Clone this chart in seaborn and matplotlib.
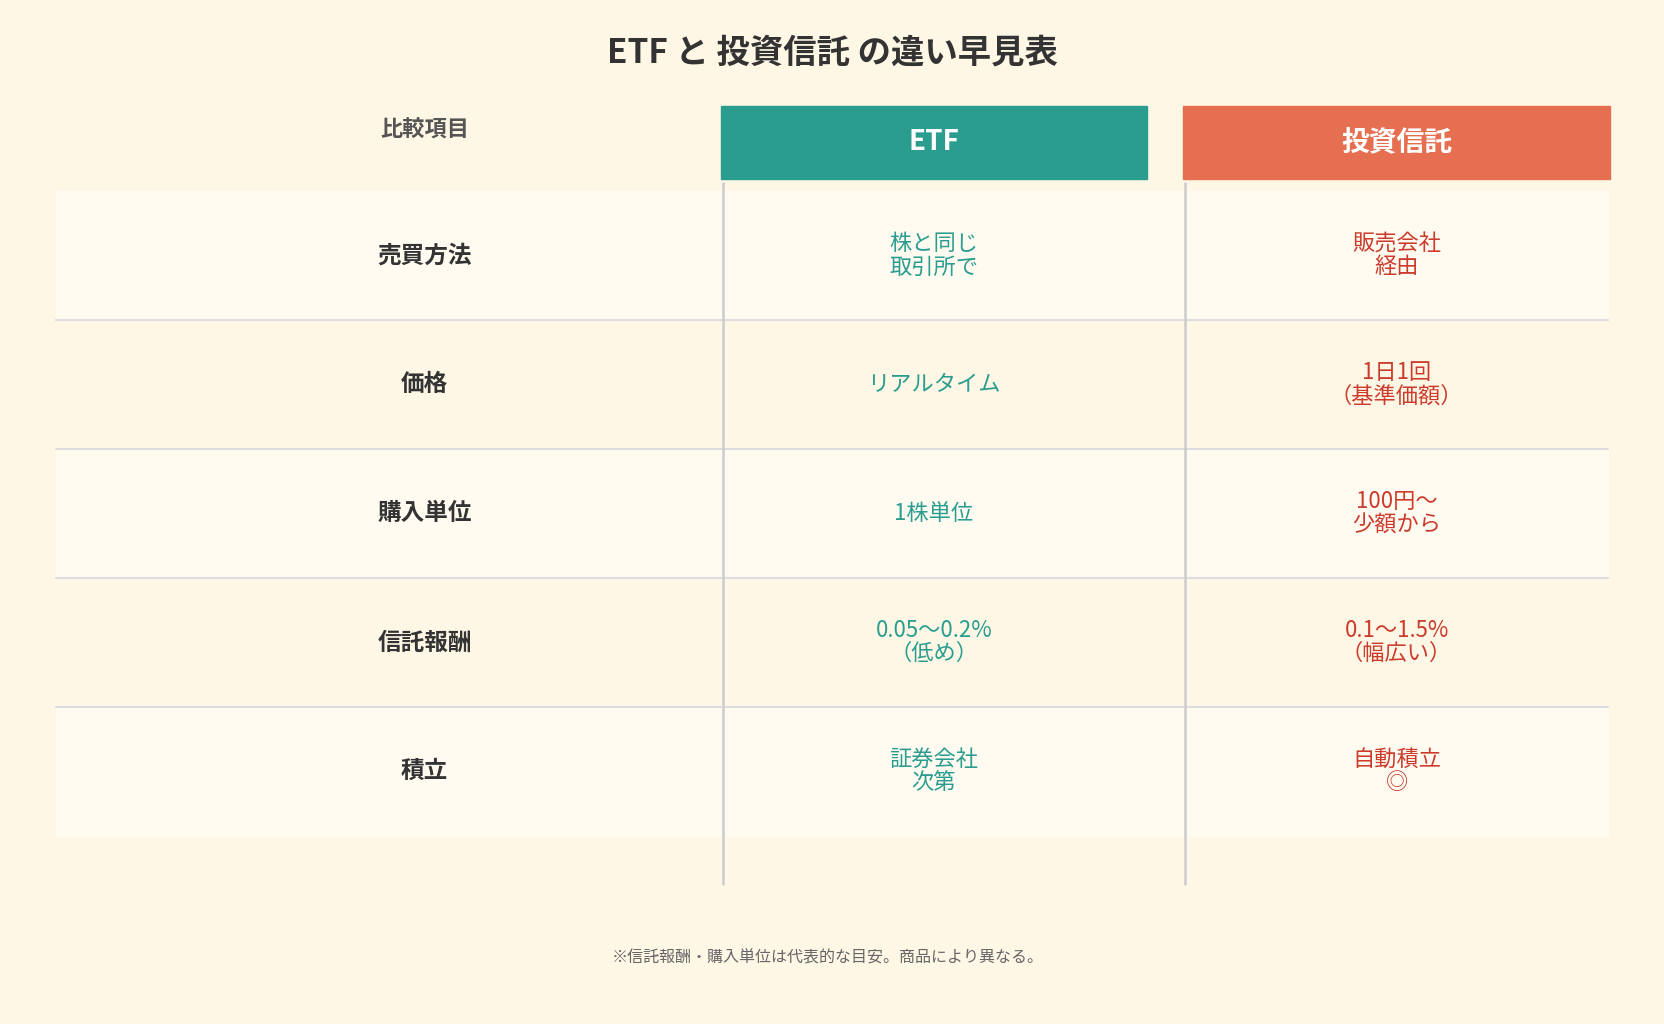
import matplotlib
matplotlib.use("Agg")
import matplotlib.pyplot as plt
import matplotlib.patches as mpatches
import seaborn as sns

title = "ETF と 投資信託 の違い早見表"
header_label = "比較項目"
columns = ["ETF", "投資信託"]
categories = ["売買方法", "価格", "購入単位", "信託報酬", "積立"]
etf_values = ["株と同じ\n取引所で", "リアルタイム", "1株単位", "0.05〜0.2%\n（低め）", "証券会社\n次第"]
fund_values = ["販売会社\n経由", "1日1回\n（基準価額）", "100円〜\n少額から", "0.1〜1.5%\n（幅広い）", "自動積立\n◎"]
footnote = "※信託報酬・購入単位は代表的な目安。商品により異なる。"

BG = "#fef7e6"
LIGHT = "#fffbf1"
ETF_C = "#2a9d8f"
FUND_C = "#e76f51"
ETF_T = "#2a9d8f"
FUND_T = "#cc3b2b"

sns.set_theme(style="white")
plt.rcParams['font.family'] = ['Noto Sans CJK JP', 'DejaVu Sans']

fig = plt.figure(figsize=(16.64, 10.24), dpi=100, facecolor=BG)
ax = fig.add_axes([0, 0, 1, 1])
ax.set_facecolor(BG)
ax.set_xlim(0, 1568)
ax.set_ylim(965, 0)
ax.axis("off")

ax.text(784, 50, title, ha="center", va="center", fontsize=24, fontweight="bold", color="#333333")

col_x = [880, 1316]
col_l = [679, 1115]
hdr_colors = [ETF_C, FUND_C]
for i, name in enumerate(columns):
    ax.add_patch(mpatches.Rectangle((col_l[i], 100), 402, 69, color=hdr_colors[i], zorder=2))
    ax.text(col_x[i], 134, name, ha="center", va="center", fontsize=20, fontweight="bold", color="white", zorder=3)
ax.text(400, 123, header_label, ha="center", va="center", fontsize=16, fontweight="bold", color="#555555")

row_top = 180
row_h = 121.5
for r, cat in enumerate(categories):
    y0 = row_top + r * row_h
    yc = y0 + row_h / 2
    if r % 2 == 0:
        ax.add_patch(mpatches.Rectangle((53, y0), 1462, row_h, color=LIGHT, zorder=0))
    if r > 0:
        ax.plot([53, 1515], [y0, y0], color="#dddddd", lw=1.5, zorder=1)
    ax.text(400, yc, cat, ha="center", va="center", fontsize=17, fontweight="bold", color="#333333")
    ax.text(col_x[0], yc, etf_values[r], ha="center", va="center", fontsize=16, color=ETF_T, linespacing=1.0)
    ax.text(col_x[1], yc, fund_values[r], ha="center", va="center", fontsize=16, color=FUND_T, linespacing=1.0)

for x in [681, 1117]:
    ax.plot([x, x], [172, 833], color="#cccccc", lw=1.8, zorder=1)

ax.text(780, 903, footnote, ha="center", va="center", fontsize=11.5, color="#666666")

fig.savefig("out.png", dpi=100, facecolor=BG)
